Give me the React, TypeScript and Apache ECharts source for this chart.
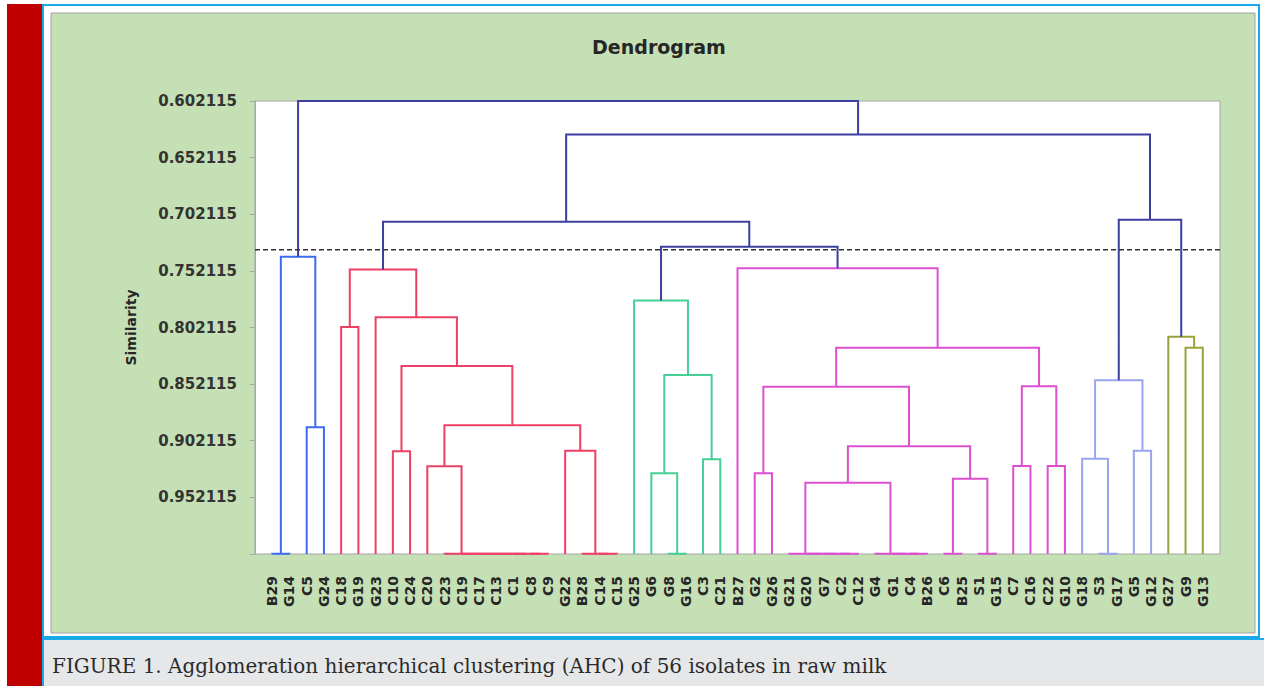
import React, { useEffect, useRef } from 'react';
import * as echarts from 'echarts';

// Leaf labels (left to right)
const leaves = [
  'B29', 'G14', 'C5', 'G24', 'C18', 'G19', 'G23', 'C10', 'C24', 'C20', 'C23', 'C19', 'C17', 'C13',
  'C1', 'C8', 'C9', 'G22', 'B28', 'C14', 'C15', 'G25', 'G6', 'G8', 'G16', 'C3', 'C21', 'B27', 'G2',
  'G26', 'G21', 'G20', 'G7', 'C2', 'C12', 'G4', 'G1', 'C4', 'B26', 'C6', 'B25', 'S1', 'G15', 'C7',
  'C16', 'C22', 'G10', 'G18', 'S3', 'G17', 'G5', 'G12', 'G27', 'G9', 'G13',
];

const yTickLabels = ['0.602115', '0.652115', '0.702115', '0.752115', '0.802115', '0.852115', '0.902115', '0.952115'];
const AXIS_TOP = 0.602115;
const AXIS_BOTTOM = 1.002115;
const TICK_STEP = 0.05;
const CUT_LEVEL = 0.7335;

// merges: [id, left child, right child, similarity]
const blueMerges: [string, string, string, number][] = [
  ['b1', 'B29', 'G14', 1.002],
  ['b2', 'C5', 'G24', 0.8902],
  ['b3', 'b1', 'b2', 0.7397],
];
const redMerges: [string, string, string, number][] = [
  ['r1', 'C18', 'G19', 0.8017],
  ['r2', 'C10', 'C24', 0.9114],
  ['r3', 'C8', 'C9', 1.002],
  ['r4', 'C1', 'r3', 1.002],
  ['r5', 'C13', 'r4', 1.002],
  ['r6', 'C17', 'r5', 1.002],
  ['r7', 'C19', 'r6', 1.002],
  ['r8', 'C23', 'r7', 1.002],
  ['r9', 'C20', 'r8', 0.9247],
  ['r10', 'C14', 'C15', 1.002],
  ['r11', 'B28', 'r10', 1.002],
  ['r12', 'G22', 'r11', 0.911],
  ['r13', 'r9', 'r12', 0.8884],
  ['r14', 'r2', 'r13', 0.8362],
  ['r15', 'G23', 'r14', 0.7931],
  ['r16', 'r1', 'r15', 0.7508],
];
const greenMerges: [string, string, string, number][] = [
  ['g1', 'G8', 'G16', 1.002],
  ['g2', 'G6', 'g1', 0.9309],
  ['g3', 'C3', 'C21', 0.9185],
  ['g4', 'g2', 'g3', 0.8441],
  ['g5', 'G25', 'g4', 0.7782],
];
const magentaMerges: [string, string, string, number][] = [
  ['m1', 'G2', 'G26', 0.9309],
  ['m2', 'C2', 'C12', 1.002],
  ['m3', 'G7', 'm2', 1.002],
  ['m4', 'G20', 'm3', 1.002],
  ['m5', 'G21', 'm4', 1.002],
  ['m6', 'C4', 'B26', 1.002],
  ['m7', 'G1', 'm6', 1.002],
  ['m8', 'G4', 'm7', 1.002],
  ['m9', 'm5', 'm8', 0.9391],
  ['m10', 'C6', 'B25', 1.002],
  ['m11', 'S1', 'G15', 1.002],
  ['m12', 'm10', 'm11', 0.9356],
  ['m13', 'm9', 'm12', 0.907],
  ['m14', 'm1', 'm13', 0.8545],
  ['m15', 'C7', 'C16', 0.9244],
  ['m16', 'C22', 'G10', 0.9244],
  ['m17', 'm15', 'm16', 0.854],
  ['m18', 'm14', 'm17', 0.82],
  ['m19', 'B27', 'm18', 0.7497],
];
const lightBlueMerges: [string, string, string, number][] = [
  ['l1', 'S3', 'G17', 1.002],
  ['l2', 'G18', 'l1', 0.918],
  ['l3', 'G5', 'G12', 0.9109],
  ['l4', 'l2', 'l3', 0.8486],
];
const oliveMerges: [string, string, string, number][] = [
  ['o1', 'G9', 'G13', 0.82],
  ['o2', 'G27', 'o1', 0.8103],
];
const topMerges: [string, string, string, number][] = [
  ['n1', 'g5', 'm19', 0.7309],
  ['n2', 'r16', 'n1', 0.7088],
  ['n3', 'l4', 'o2', 0.707],
  ['n4', 'n2', 'n3', 0.6318],
  ['n5', 'b3', 'n4', 0.6022],
];

const clusterColors = ['#3d6af0', '#ee3f64', '#45cf95', '#dc4fd0', '#9ba4ee', '#9ba23a', '#3c3f9f'];
const clusterMerges = [blueMerges, redMerges, greenMerges, magentaMerges, lightBlueMerges, oliveMerges, topMerges];

function buildSegments() {
  const nodes: Record<string, { x: number; s: number }> = {};
  leaves.forEach((n, i) => (nodes[n] = { x: i, s: AXIS_BOTTOM }));
  const out: number[][] = [];
  clusterMerges.forEach((list, ci) => {
    list.forEach(([id, l, r, s]) => {
      const a = nodes[l];
      const b = nodes[r];
      out.push([a.x, a.s - AXIS_TOP, b.x, b.s - AXIS_TOP, s - AXIS_TOP, ci]);
      nodes[id] = { x: (a.x + b.x) / 2, s };
    });
  });
  return out;
}

export default function App() {
  const ref = useRef<HTMLDivElement>(null);
  useEffect(() => {
    if (!ref.current) return;
    const chart = echarts.init(ref.current, undefined, { renderer: 'svg' });
    const segs = buildSegments();
    const sans = 'DejaVu Sans';
    chart.setOption({
      animation: false,
      backgroundColor: '#ffffff',
      graphic: [
        { type: 'rect', z: -100, silent: true, shape: { x: 7, y: 4, width: 35, height: 682 }, style: { fill: '#c00000' } },
        { type: 'rect', z: -99, silent: true, shape: { x: 43, y: 5, width: 1216, height: 632 }, style: { fill: '#ffffff', stroke: '#1aa8e8', lineWidth: 2 } },
        { type: 'rect', z: -98, silent: true, shape: { x: 51, y: 13, width: 1204, height: 620 }, style: { fill: '#c5e0b4', stroke: '#a3a3a3', lineWidth: 1 } },
        { type: 'rect', z: -97, silent: true, shape: { x: 43, y: 639, width: 1230, height: 60 }, style: { fill: '#e6e7e9', stroke: '#1aa8e8', lineWidth: 2 } },
        {
          type: 'text', z: 10, x: 52, y: 666,
          style: { text: 'FIGURE 1. Agglomeration hierarchical clustering (AHC) of 56 isolates in raw milk', font: '20px "DejaVu Serif"', fill: '#2b2b2b', verticalAlign: 'middle', align: 'left' },
        },
        {
          type: 'text', z: 10, x: 659, y: 47,
          style: { text: 'Dendrogram', font: `bold 19px "${sans}"`, fill: '#262626', verticalAlign: 'middle', align: 'center' },
        },
      ],
      grid: { left: 255, top: 101, width: 965, height: 453, show: true, backgroundColor: '#ffffff', borderColor: '#a6a6a6', borderWidth: 1, outerBoundsMode: 'none' },
      xAxis: {
        type: 'value', min: -1, max: leaves.length, interval: 1,
        axisLine: { show: false, onZero: false }, axisTick: { show: false }, splitLine: { show: false },
        axisLabel: {
          rotate: 90, margin: 22, fontFamily: sans, fontWeight: 'bold', fontSize: 14, color: '#262626',
          formatter: (v: number) => (Number.isInteger(v) && v >= 0 && v < leaves.length ? leaves[v] : ''),
          showMinLabel: true, showMaxLabel: true,
        },
      },
      yAxis: {
        type: 'value', inverse: true, min: 0, max: AXIS_BOTTOM - AXIS_TOP, interval: TICK_STEP,
        name: 'Similarity', nameLocation: 'middle', nameGap: 117, nameRotate: 90,
        nameTextStyle: { fontFamily: sans, fontWeight: 'bold', fontSize: 14, color: '#262626' },
        axisLine: { show: true, onZero: false, lineStyle: { color: '#a6a6a6' } },
        axisTick: { show: true, length: 5, lineStyle: { color: '#a6a6a6' } },
        splitLine: { show: false },
        axisLabel: {
          margin: 18, fontFamily: sans, fontWeight: 'bold', fontSize: 15, color: '#333333',
          formatter: (v: number) => yTickLabels[Math.round(v / TICK_STEP)] ?? '',
        },
      },
      series: [
        {
          type: 'custom',
          data: segs,
          encode: { x: [0, 2], y: [1, 3, 4] },
          clip: false,
          z: 3,
          renderItem: (params: any, api: any) => {
            const xL = api.value(0), yL = api.value(1), xR = api.value(2), yR = api.value(3), h = api.value(4), c = api.value(5);
            const pts = [api.coord([xL, yL]), api.coord([xL, h]), api.coord([xR, h]), api.coord([xR, yR])];
            return { type: 'polyline', shape: { points: pts }, style: { stroke: clusterColors[c], lineWidth: 2, fill: null } };
          },
        },
        {
          type: 'line',
          data: [[-1, CUT_LEVEL - AXIS_TOP], [leaves.length, CUT_LEVEL - AXIS_TOP]],
          symbol: 'none',
          z: 4,
          lineStyle: { color: '#333333', width: 1.5, type: [5, 3] },
        },
      ],
    });
    return () => chart.dispose();
  }, []);
  return <div ref={ref} style={{ position: 'absolute', left: 0, top: 0, width: 1264, height: 686 }} />;
}
